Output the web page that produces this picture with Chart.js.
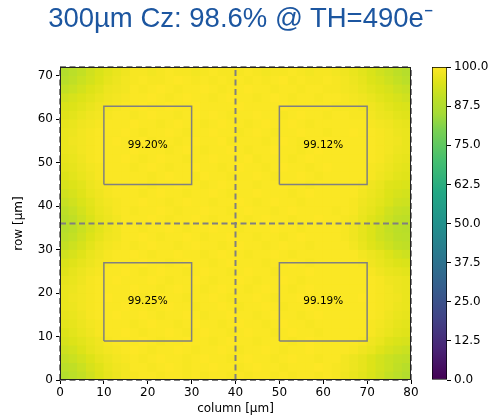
<!DOCTYPE html>
<html>
<head>
<meta charset="utf-8">
<script src="https://cdn.jsdelivr.net/npm/chart.js@4.4.1/dist/chart.umd.min.js"></script>
<style>
  body { margin: 0; background: #fff; }
  #wrap { position: relative; width: 495px; height: 418px; overflow: hidden; }
  #title { position: absolute; left: -7px; top: 2px; width: 495px; text-align: center;
           font: 27.5px "Liberation Sans", Arial, sans-serif; line-height: 32px; color: #1c56a0; }
  #map { position: absolute; left: 0; top: 0; }
  #cbar { position: absolute; left: 400px; top: 0; }
</style>
</head>
<body>
<div id="wrap">
  <canvas id="map" width="425" height="418"></canvas>
  <canvas id="cbar" width="95" height="418"></canvas>
  <div id="title">300µm Cz: 98.6% @ TH=490e⁻</div>
</div>
<script>
const colTicks = [0, 10, 20, 30, 40, 50, 60, 70, 80];
const rowTicks = [0, 10, 20, 30, 40, 50, 60, 70];
const cbarTicks = [0, 12.5, 25, 37.5, 50, 62.5, 75, 87.5, 100];
const cellSize = 2; // µm, one bin
const mapTop = 72;

// efficiency (%) per 2x2 µm bin, first row is the top one (row 70-72 µm), 40 columns each
const effMap = [
  [88, 89.5, 91, 93, 94.5, 96, 97, 98, 99, 99, 98.5, 99, 99.5, 99, 99, 98.5, 99, 99.5, 99, 99, 99, 99.5, 99, 98.5, 99, 99, 99.5, 99, 98.5, 99, 99, 98.5, 98, 97, 96, 94.5, 93, 91.5, 90, 88.5],
  [89, 90.5, 92, 93.5, 95, 96.5, 97.5, 98.5, 99, 99.5, 99, 99, 99.5, 100, 99.5, 99, 99.5, 99, 99.5, 99, 99.5, 99, 99.5, 99, 99.5, 100, 99, 99.5, 99, 99, 99.5, 99, 98.5, 97.5, 96.5, 95, 94, 92.5, 91, 89.5],
  [91, 92, 93.5, 95, 96, 97.5, 98, 98.5, 99.5, 99, 99.5, 100, 99.5, 99, 99.5, 99.5, 100, 99.5, 99, 99.5, 99.5, 100, 99.5, 99.5, 99, 99.5, 99.5, 99, 99.5, 99.5, 99, 99, 98.5, 98, 97, 96, 95, 94, 92.5, 91.5],
  [93, 94, 95, 96, 97, 98, 98.5, 99, 99.5, 99.5, 100, 99.5, 99, 99.5, 100, 99.5, 99.5, 99, 99.5, 100, 99.5, 99.5, 99, 99.5, 100, 99.5, 99, 99.5, 99.5, 99, 99.5, 99.5, 99, 98.5, 98, 97, 96, 95, 94, 93],
  [94.5, 95, 96, 97, 98, 98.5, 99, 99.5, 99.5, 100, 99.5, 99.5, 100, 99.5, 99.5, 100, 99.5, 99.5, 99.5, 99.5, 100, 99.5, 99.5, 99.5, 99.5, 100, 99.5, 99.5, 99.5, 99.5, 99.5, 99, 99, 99, 98.5, 98, 97, 96, 95, 94.5],
  [95.5, 96, 97, 98, 98.5, 99, 99.5, 99.5, 99, 99.5, 100, 99.5, 99.5, 99, 99.5, 100, 99.5, 100, 99.5, 99, 99.5, 99.5, 100, 99.5, 99.5, 99, 99.5, 100, 99.5, 99.5, 99, 99.5, 99.5, 99, 99, 98.5, 97.5, 97, 96, 95.5],
  [96.5, 97, 98, 98.5, 99, 99.5, 99.5, 99.5, 100, 99.5, 99.5, 99, 99.5, 100, 99.5, 99.5, 99, 99.5, 100, 99.5, 99.5, 99, 99.5, 100, 99.5, 99.5, 100, 99.5, 99, 99.5, 99.5, 99.5, 99.5, 99.5, 99.5, 99, 98.5, 98, 97, 96.5],
  [97, 97.5, 98.5, 99, 99.5, 99.5, 99.5, 100, 99.5, 99, 99.5, 99.5, 100, 99.5, 99, 99.5, 99.5, 100, 99.5, 99.5, 99, 99.5, 100, 99.5, 99, 99.5, 99.5, 100, 99.5, 99.5, 99, 99.5, 99.5, 100, 99.5, 99.5, 99, 98.5, 97.5, 97],
  [97, 98, 98.5, 99, 99.5, 99.5, 100, 99.5, 99.5, 100, 99, 99.5, 99.5, 99, 99.5, 100, 99.5, 99.5, 100, 99, 99.5, 99.5, 99.5, 99, 99.5, 100, 99.5, 99, 99.5, 99.5, 100, 99.5, 99.5, 99.5, 99.5, 99.5, 99, 98.5, 98, 97],
  [97, 97.5, 98.5, 99, 99.5, 99.5, 99.5, 99.5, 100, 99.5, 99.5, 99.5, 99, 99.5, 100, 99.5, 99, 99.5, 99.5, 100, 99.5, 99, 99.5, 99.5, 100, 99.5, 99.5, 99, 99.5, 100, 99.5, 99.5, 99.5, 99.5, 99.5, 99.5, 99, 98.5, 97.5, 97],
  [96.5, 97, 98, 99, 99.5, 99.5, 99.5, 100, 99.5, 99, 99.5, 100, 99.5, 99.5, 99, 99.5, 99.5, 100, 99.5, 99.5, 99.5, 100, 99, 99.5, 99.5, 99.5, 99, 99.5, 100, 99.5, 99.5, 99.5, 99.5, 99.5, 99.5, 99.5, 99, 98, 97, 96.5],
  [96, 96.5, 97.5, 98.5, 99, 99.5, 99.5, 99.5, 99, 99.5, 100, 99.5, 99, 99.5, 99.5, 100, 99.5, 99.5, 99, 99.5, 100, 99.5, 99.5, 99, 99.5, 100, 99.5, 99.5, 99, 99.5, 100, 99.5, 99.5, 99.5, 99.5, 99, 98.5, 97.5, 96.5, 96],
  [95, 96, 97, 98, 99, 99.5, 99.5, 99.5, 99.5, 99.5, 99, 99.5, 100, 99.5, 99.5, 99, 100, 99.5, 99.5, 99, 99.5, 99.5, 100, 99.5, 99, 99.5, 99.5, 100, 99.5, 99, 99.5, 99.5, 99.5, 99.5, 99.5, 99, 98, 97, 96, 95.5],
  [94, 95, 96, 97.5, 98.5, 99, 99.5, 99.5, 100, 99.5, 99, 99.5, 99.5, 100, 99.5, 99.5, 99, 99.5, 100, 99.5, 99.5, 99.5, 99, 99.5, 99.5, 100, 99.5, 99.5, 99, 99.5, 99.5, 99.5, 99.5, 99.5, 99, 98, 97, 95.5, 95, 94.5],
  [93, 94, 95.5, 97, 98, 99, 99.5, 99.5, 99.5, 99, 99.5, 100, 99.5, 99.5, 99, 99.5, 99.5, 100, 99.5, 99, 99.5, 99.5, 100, 99.5, 99.5, 99.5, 99, 99.5, 100, 99.5, 99.5, 99.5, 99.5, 99.5, 98.5, 97.5, 96.5, 95, 94, 93.5],
  [91.5, 93, 94.5, 96, 97.5, 98.5, 99, 99.5, 99.5, 100, 99.5, 99.5, 99, 99.5, 100, 99.5, 99.5, 99, 99.5, 99.5, 100, 99.5, 99, 99.5, 100, 99.5, 99.5, 99, 99.5, 99.5, 99.5, 99.5, 99.5, 99, 98, 97, 96, 94.5, 93, 92.5],
  [90, 91.5, 93.5, 95.5, 97, 98, 99, 99.5, 99, 99.5, 99.5, 100, 99.5, 99, 99.5, 99.5, 100, 99.5, 99.5, 99, 99.5, 100, 99.5, 99.5, 99, 99.5, 100, 99.5, 99.5, 99.5, 99.5, 99, 99.5, 99, 97.5, 96.5, 95, 93, 91.5, 91],
  [89, 90.5, 92.5, 94.5, 96.5, 97.5, 98.5, 99.5, 99.5, 99.5, 100, 99.5, 99, 99.5, 99.5, 100, 99.5, 99, 99.5, 99.5, 99.5, 99, 99.5, 100, 99.5, 99.5, 99, 99.5, 99.5, 100, 99.5, 99.5, 99, 98.5, 97, 95.5, 94, 92, 90.5, 90],
  [88.5, 90, 92, 94, 96, 97.5, 98.5, 99.5, 99.5, 99, 99.5, 99.5, 100, 99.5, 99, 99.5, 99.5, 100, 99.5, 99.5, 99, 99.5, 99.5, 99.5, 100, 99.5, 99.5, 99, 99.5, 99.5, 99.5, 99.5, 99, 98, 96.5, 95, 93, 91, 89.5, 89],
  [89.5, 91, 93, 95, 96.5, 98, 98.5, 99.5, 99.5, 100, 99.5, 99, 99.5, 99.5, 100, 99.5, 99, 99.5, 99.5, 100, 99.5, 99.5, 99, 99.5, 99.5, 99, 99.5, 100, 99.5, 99.5, 99.5, 99.5, 99, 98, 96.5, 95, 93, 91.5, 90, 89.5],
  [91, 92.5, 94, 96, 97.5, 98.5, 99, 99.5, 99, 99.5, 100, 99.5, 99.5, 99, 99.5, 100, 99.5, 99.5, 99, 99.5, 100, 99.5, 99.5, 99, 99.5, 100, 99.5, 99.5, 99, 99.5, 99.5, 99.5, 99.5, 98.5, 97, 95.5, 94, 92.5, 91, 90.5],
  [93, 94, 95.5, 97, 98, 99, 99.5, 99.5, 100, 99.5, 99, 99.5, 99.5, 100, 99.5, 99.5, 99, 99.5, 100, 99.5, 99.5, 99, 99.5, 99.5, 100, 99.5, 99, 99.5, 99.5, 99.5, 99.5, 99.5, 99.5, 99.5, 98.5, 97.5, 96.5, 95, 93.5, 92.5],
  [94.5, 95.5, 96.5, 97.5, 98.5, 99, 99.5, 99.5, 99.5, 100, 99.5, 99.5, 99, 99.5, 100, 99.5, 99.5, 99, 99.5, 100, 99.5, 99.5, 99.5, 99, 99.5, 99.5, 100, 99.5, 99, 99.5, 99.5, 99.5, 99.5, 99.5, 99, 98, 97, 96, 95, 94.5],
  [95.5, 96.5, 97.5, 98.5, 99, 99.5, 99.5, 100, 99.5, 99, 99.5, 100, 99.5, 99.5, 99, 99.5, 100, 99.5, 99.5, 99, 99.5, 100, 99.5, 99.5, 99, 99.5, 99.5, 99.5, 100, 99.5, 99.5, 99.5, 99.5, 99.5, 99.5, 99, 98, 97, 96.5, 96],
  [96.5, 97, 98, 99, 99.5, 99.5, 100, 99.5, 99.5, 99.5, 100, 99.5, 99, 99.5, 99.5, 100, 99.5, 99, 99.5, 99.5, 100, 99.5, 99, 99.5, 99.5, 100, 99.5, 99, 99.5, 99.5, 99.5, 99.5, 99.5, 99.5, 99.5, 99.5, 99, 98, 97.5, 97],
  [97, 97.5, 98.5, 99, 99.5, 99.5, 99.5, 99.5, 100, 99.5, 99.5, 99, 99.5, 100, 99.5, 99.5, 99, 99.5, 100, 99.5, 99.5, 99, 99.5, 100, 99.5, 99.5, 99, 99.5, 100, 99.5, 99.5, 99.5, 99.5, 99.5, 99.5, 99.5, 99, 98.5, 97.5, 97],
  [97, 98, 98.5, 99, 99.5, 100, 99.5, 99.5, 99.5, 99, 99.5, 100, 99.5, 99.5, 99, 99.5, 99.5, 100, 99.5, 99, 99.5, 99.5, 100, 99.5, 99, 99.5, 99.5, 100, 99.5, 99.5, 99, 99.5, 99.5, 99.5, 100, 99.5, 99, 98.5, 98, 97],
  [97, 97.5, 98.5, 99, 99.5, 99.5, 99.5, 100, 99.5, 99.5, 99, 99.5, 100, 99.5, 99.5, 99, 99.5, 99.5, 100, 99.5, 99, 99.5, 99.5, 100, 99.5, 99, 99.5, 99.5, 100, 99.5, 99.5, 99.5, 99.5, 99.5, 99.5, 99.5, 99, 98.5, 97.5, 97],
  [96.5, 97, 98, 99, 99.5, 99.5, 100, 99.5, 99.5, 100, 99.5, 99, 99.5, 99.5, 100, 99.5, 99, 99.5, 99.5, 100, 99.5, 99.5, 99, 99.5, 100, 99.5, 99.5, 99, 99.5, 100, 99.5, 99.5, 99.5, 99.5, 99.5, 99.5, 99, 98, 97, 96.5],
  [96, 96.5, 97.5, 98.5, 99, 99.5, 99.5, 99.5, 99, 99.5, 100, 99.5, 99.5, 99, 99.5, 100, 99.5, 99.5, 99, 99.5, 100, 99.5, 99.5, 99, 99.5, 100, 99.5, 99.5, 99, 99.5, 99.5, 99.5, 99.5, 99.5, 99.5, 99, 98.5, 97.5, 96.5, 96],
  [95, 96, 97, 98, 99, 99.5, 99.5, 100, 99.5, 99, 99.5, 99.5, 100, 99.5, 99, 99.5, 100, 99.5, 99.5, 99, 99.5, 100, 99.5, 99.5, 99, 99.5, 100, 99.5, 99.5, 99, 99.5, 99.5, 99.5, 99.5, 99.5, 99, 98, 97, 96, 95.5],
  [94, 95, 96, 97, 98, 99, 99.5, 99.5, 99.5, 100, 99.5, 99, 99.5, 99.5, 100, 99.5, 99.5, 99, 99.5, 100, 99.5, 99.5, 99, 99.5, 99.5, 99.5, 99, 99.5, 100, 99.5, 99.5, 99.5, 99.5, 99.5, 99, 98, 97, 95.5, 94.5, 94],
  [92.5, 93.5, 95, 96.5, 97.5, 98.5, 99, 99.5, 100, 99.5, 99, 99.5, 99.5, 100, 99.5, 99, 99.5, 99.5, 100, 99.5, 99, 99.5, 99.5, 100, 99.5, 99, 99.5, 99.5, 100, 99.5, 99.5, 99.5, 99.5, 99, 98, 97, 95.5, 94, 93, 92],
  [91, 92, 93.5, 95, 96.5, 97.5, 98.5, 99, 99.5, 99, 99.5, 100, 99.5, 99.5, 99, 99.5, 100, 99.5, 99.5, 99, 99.5, 100, 99.5, 99.5, 99, 99.5, 100, 99.5, 99.5, 99, 99.5, 99.5, 98.5, 97.5, 96.5, 95, 93.5, 92, 91, 90.5],
  [89.5, 90.5, 92, 94, 95.5, 97, 98, 98.5, 99.5, 99.5, 99, 99.5, 100, 99.5, 99, 99.5, 99.5, 100, 99.5, 99.5, 99, 99.5, 100, 99.5, 99.5, 99, 99.5, 99.5, 99.5, 100, 99.5, 99, 98.5, 97.5, 96.5, 95, 93.5, 92, 90.5, 89],
  [88, 89.5, 91, 93, 95, 96.5, 97.5, 98.5, 99, 99.5, 99.5, 99, 99.5, 99.5, 99, 99.5, 99, 99.5, 99.5, 99, 99.5, 99, 99.5, 99.5, 99, 99.5, 99, 99.5, 99.5, 99, 99.5, 99, 98, 97, 96, 94.5, 93, 91, 89.5, 88]
];

// readout boxes and their mean efficiency
const boxX = [[10, 30], [50, 70], [10, 30], [50, 70]];
const boxY = [[45, 63], [45, 63], [9, 27], [9, 27]];
const boxEff = ['99.20%', '99.12%', '99.25%', '99.19%'];
// pixel boundaries (dashed)
const splitX = [0, 40, 80];
const splitY = [0, 36, 72];

const viridisStops = [
  [0, '#440154'], [0.1, '#482475'], [0.2, '#414487'], [0.3, '#355f8d'], [0.4, '#2a788e'],
  [0.5, '#21918c'], [0.6, '#22a884'], [0.7, '#44bf70'], [0.8, '#7ad151'], [0.85, '#a5db36'],
  [0.9, '#bddf26'], [0.95, '#dde318'], [1, '#fde725']
];

function hexRgb(h) {
  return [parseInt(h.slice(1, 3), 16), parseInt(h.slice(3, 5), 16), parseInt(h.slice(5, 7), 16)];
}

function viridis(v) {
  const t = Math.max(0, Math.min(1, v / 100));
  for (let i = 1; i < viridisStops.length; i++) {
    const [t1, c1] = viridisStops[i];
    if (t <= t1) {
      const [t0, c0] = viridisStops[i - 1];
      const f = (t - t0) / (t1 - t0);
      const a = hexRgb(c0), b = hexRgb(c1);
      const rgb = a.map((q, k) => Math.round(q + (b[k] - q) * f));
      return `rgb(${rgb.join(',')})`;
    }
  }
  return viridisStops[viridisStops.length - 1][1];
}

const tickFont = { family: 'DejaVu Sans', size: 12 };
const labelFont = { family: 'DejaVu Sans', size: 12 };

// one floating-bar dataset per row of bins
const datasets = effMap.map((row, i) => {
  const yHi = mapTop - i * cellSize;
  return {
    type: 'bar',
    order: 2,
    grouped: false,
    barPercentage: 1,
    categoryPercentage: 1,
    borderWidth: 0,
    data: row.map((v, j) => ({ x: j * cellSize + cellSize / 2, y: [yHi - cellSize, yHi] })),
    backgroundColor: row.map(viridis)
  };
});

const lineBase = { type: 'line', order: 1, borderColor: '#808080', pointRadius: 0, fill: false, tension: 0, clip: false };

splitX.forEach(x => {
  datasets.push({ ...lineBase, borderWidth: 2, borderDash: [6, 3.5], data: [{ x: x, y: 0 }, { x: x, y: 72 }] });
});
splitY.forEach(y => {
  datasets.push({ ...lineBase, borderWidth: 2, borderDash: [6, 3.5], data: [{ x: 0, y: y }, { x: 80, y: y }] });
});
boxX.forEach((bx, k) => {
  const by = boxY[k];
  datasets.push({
    ...lineBase, borderWidth: 1.5,
    data: [{ x: bx[0], y: by[0] }, { x: bx[1], y: by[0] }, { x: bx[1], y: by[1] }, { x: bx[0], y: by[1] }, { x: bx[0], y: by[0] }]
  });
});

const mapDecor = {
  id: 'mapDecor',
  beforeDatasetsDraw(chart) {
    const { ctx, chartArea: a } = chart;
    ctx.save();
    ctx.fillStyle = viridis(99.3); // hides seams between bins
    ctx.fillRect(a.left, a.top, a.width, a.height);
    ctx.restore();
  },
  afterDatasetsDraw(chart) {
    const { ctx, chartArea: a, scales: { x, y } } = chart;
    ctx.save();
    ctx.font = '10.5px "DejaVu Sans"';
    ctx.fillStyle = '#000';
    ctx.textAlign = 'center';
    ctx.textBaseline = 'middle';
    boxEff.forEach((t, k) => {
      ctx.fillText(t, x.getPixelForValue((boxX[k][0] + boxX[k][1]) / 2), y.getPixelForValue((boxY[k][0] + boxY[k][1]) / 2));
    });
    ctx.strokeStyle = '#222';
    ctx.lineWidth = 1;
    ctx.strokeRect(Math.round(a.left) + 0.5, Math.round(a.top) + 0.5, Math.round(a.width) - 1, Math.round(a.height) - 1);
    ctx.restore();
  }
};

new Chart(document.getElementById('map'), {
  type: 'bar',
  data: { datasets: datasets },
  options: {
    responsive: false,
    animation: false,
    events: [],
    layout: { padding: { left: 0, top: 67, right: 14, bottom: 0 } },
    plugins: { legend: { display: false }, tooltip: { enabled: false } },
    scales: {
      x: {
        type: 'linear', min: 0, max: 80, offset: false,
        afterBuildTicks(s) { s.ticks = colTicks.map(v => ({ value: v })); },
        afterFit(s) { s.height = 38; },
        ticks: { color: '#000', font: tickFont, padding: 2, maxRotation: 0, autoSkip: false },
        grid: { offset: false, drawOnChartArea: false, tickLength: 4, color: '#000' },
        border: { display: false },
        title: { display: true, text: 'column [µm]', color: '#000', font: labelFont, padding: { top: 0, bottom: 2 } }
      },
      y: {
        type: 'linear', min: 0, max: 72,
        afterBuildTicks(s) { s.ticks = rowTicks.map(v => ({ value: v })); },
        afterFit(s) { s.width = 60; },
        ticks: { color: '#000', font: tickFont, padding: 3 },
        grid: { drawOnChartArea: false, tickLength: 4, color: '#000' },
        border: { display: false },
        title: { display: true, text: 'row [µm]', color: '#000', font: labelFont, padding: { top: 12, bottom: 0 } }
      }
    }
  },
  plugins: [mapDecor]
});

new Chart(document.getElementById('cbar'), {
  type: 'bar',
  data: {
    labels: [''],
    datasets: [{
      data: [[0, 100]],
      barPercentage: 1,
      categoryPercentage: 1,
      borderWidth: 1,
      borderColor: '#000',
      borderSkipped: false,
      backgroundColor(c) {
        const a = c.chart.chartArea;
        if (!a) return '#fde725';
        const g = c.chart.ctx.createLinearGradient(0, a.bottom, 0, a.top);
        viridisStops.forEach(([t, col]) => g.addColorStop(t, col));
        return g;
      }
    }]
  },
  options: {
    responsive: false,
    animation: false,
    events: [],
    layout: { padding: { left: 32, top: 67, right: 0, bottom: 38 } },
    plugins: { legend: { display: false }, tooltip: { enabled: false } },
    scales: {
      x: { display: false },
      y: {
        position: 'right', min: 0, max: 100,
        afterBuildTicks(s) { s.ticks = cbarTicks.map(v => ({ value: v })); },
        afterFit(s) { s.width = 48; },
        ticks: { color: '#000', font: tickFont, padding: 3, callback: v => Number(v).toFixed(1) },
        grid: { drawOnChartArea: false, tickLength: 4, color: '#000' },
        border: { display: false }
      }
    }
  }
});
</script>
</body>
</html>
